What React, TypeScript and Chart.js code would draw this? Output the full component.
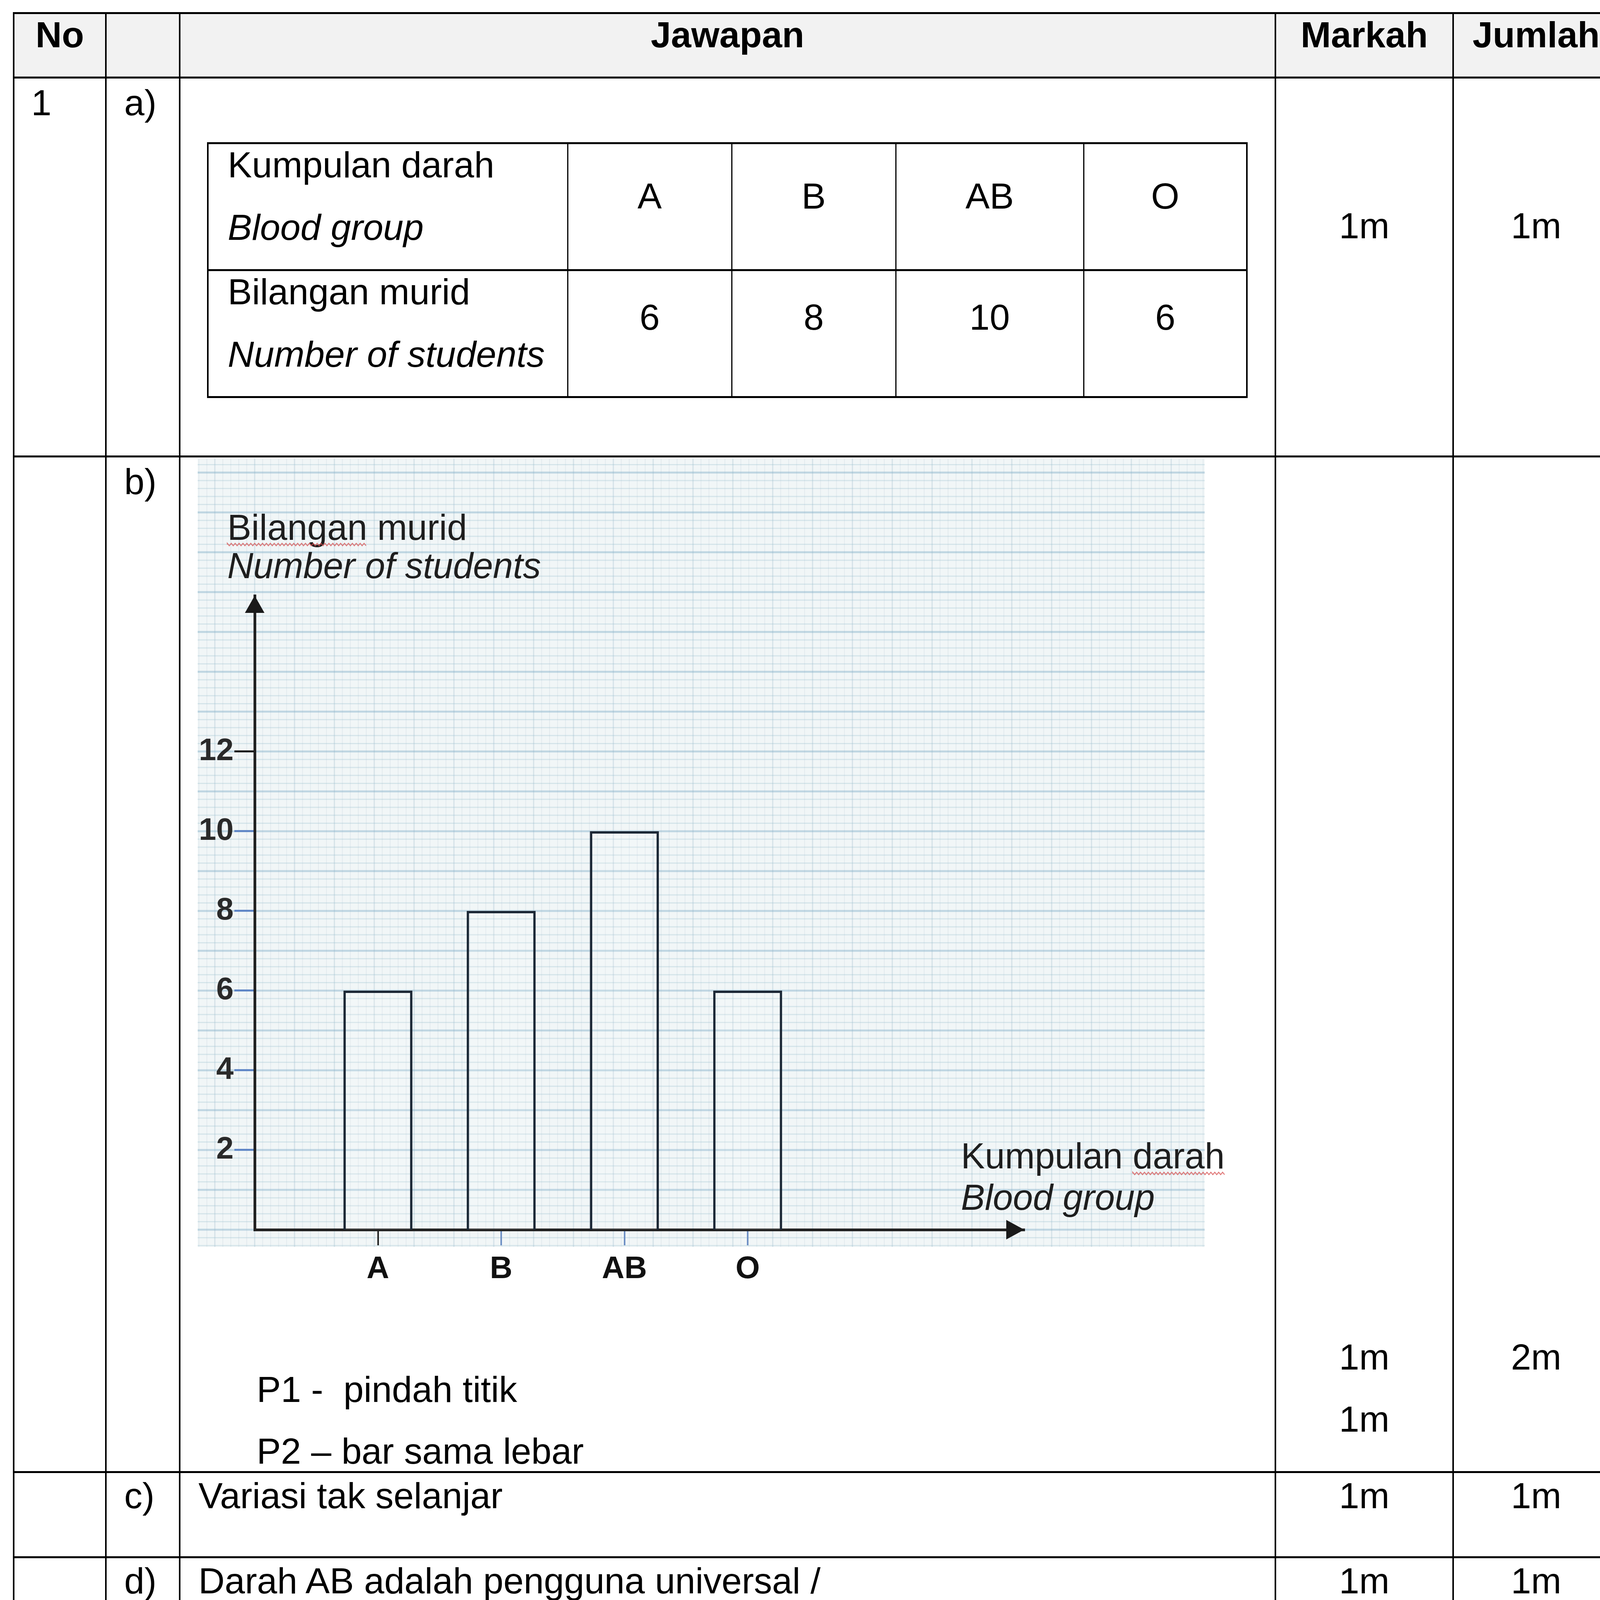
import React, { useEffect, useRef } from "react";
import { Chart, registerables } from "chart.js";

Chart.register(...registerables);

// ---------- data ----------
const categories = ["A", "B", "AB", "O"];
const studentCounts = [6, 8, 10, 6];
const yTickValues = [2, 4, 6, 8, 10, 12];
const yTitleLines = ["Bilangan murid", "Number of students"];
const xTitleLines = ["Kumpulan darah", "Blood group"];

const FONT = '"Liberation Sans", Arial, sans-serif';

// ---------- chart plugins ----------
const paperPlugin = {
  id: "paper",
  beforeDraw(chart: any) {
    const { ctx, chartArea, scales } = chart;
    const pr = chartArea.right + 462;
    const pb = chartArea.bottom + 44;
    ctx.save();
    ctx.fillStyle = "#f1f6f7";
    ctx.fillRect(0, 0, pr, pb);
    const x0 = scales.x.getPixelForValue(0);
    const y0 = scales.y.getPixelForValue(0);
    const pitch = (y0 - scales.y.getPixelForValue(1)) / 5;
    // vertical lines (faint)
    for (let k = -Math.ceil(x0 / pitch); x0 + k * pitch <= pr; k++) {
      const x = x0 + k * pitch;
      if (x < 0) continue;
      const major = k % 5 === 0;
      ctx.strokeStyle = major ? "rgba(150,180,200,0.30)" : "rgba(170,190,205,0.20)";
      ctx.lineWidth = major ? 3 : 2;
      ctx.beginPath();
      ctx.moveTo(x, 0);
      ctx.lineTo(x, pb);
      ctx.stroke();
    }
    // horizontal lines (stronger)
    for (let k = -Math.ceil((pb - y0) / pitch); y0 - k * pitch >= 0; k++) {
      const y = y0 - k * pitch;
      if (y > pb) continue;
      const major = k % 5 === 0;
      ctx.strokeStyle = major ? "rgba(130,175,200,0.45)" : "rgba(150,190,205,0.30)";
      ctx.lineWidth = major ? 5 : 3;
      ctx.beginPath();
      ctx.moveTo(0, y);
      ctx.lineTo(pr, y);
      ctx.stroke();
    }
    ctx.restore();
  },
};

function squiggle(ctx: CanvasRenderingContext2D, x1: number, x2: number, y: number) {
  ctx.save();
  ctx.strokeStyle = "rgba(215,80,80,0.75)";
  ctx.lineWidth = 2.5;
  ctx.beginPath();
  let up = true;
  ctx.moveTo(x1, y);
  for (let x = x1; x <= x2; x += 5) {
    ctx.lineTo(x, y + (up ? -3 : 3));
    up = !up;
  }
  ctx.stroke();
  ctx.restore();
}

const annotPlugin = {
  id: "annot",
  afterDraw(chart: any) {
    const { ctx, chartArea } = chart;
    ctx.save();
    ctx.fillStyle = "#1a1a1a";
    // y arrow
    const ax = chartArea.left;
    ctx.beginPath();
    ctx.moveTo(ax, chartArea.top);
    ctx.lineTo(ax - 25, chartArea.top + 44);
    ctx.lineTo(ax + 25, chartArea.top + 44);
    ctx.closePath();
    ctx.fill();
    // x arrow
    const ay = chartArea.bottom;
    ctx.beginPath();
    ctx.moveTo(chartArea.right, ay);
    ctx.lineTo(chartArea.right - 46, ay - 25);
    ctx.lineTo(chartArea.right - 46, ay + 25);
    ctx.closePath();
    ctx.fill();

    // titles
    ctx.fillStyle = "#1e1e1e";
    ctx.textBaseline = "alphabetic";
    ctx.textAlign = "left";
    const yx = chartArea.left - 70;
    ctx.font = `400 92px ${FONT}`;
    ctx.fillText(yTitleLines[0], yx, chartArea.top - 143);
    const w1 = ctx.measureText(yTitleLines[0].split(" ")[0]).width;
    squiggle(ctx, yx, yx + w1, chartArea.top - 131);
    ctx.font = `italic 400 92px ${FONT}`;
    ctx.fillText(yTitleLines[1], yx, chartArea.top - 45);

    const xx = chartArea.right - 162;
    ctx.font = `400 92px ${FONT}`;
    ctx.fillText(xTitleLines[0], xx, chartArea.bottom - 157);
    const parts = xTitleLines[0].split(" ");
    const wa = ctx.measureText(parts[0] + " ").width;
    const wb = ctx.measureText(parts[1]).width;
    squiggle(ctx, xx + wa, xx + wa + wb, chartArea.bottom - 144);
    ctx.font = `italic 400 92px ${FONT}`;
    ctx.fillText(xTitleLines[1], xx, chartArea.bottom - 51);
    ctx.restore();
  },
};

function BarChart() {
  const ref = useRef<HTMLCanvasElement>(null);
  useEffect(() => {
    if (!ref.current) return;
    const chart = new Chart(ref.current, {
      type: "bar",
      data: {
        datasets: [
          {
            data: categories.map((c, i) => ({ x: i + 1, y: studentCounts[i] })),
            backgroundColor: "rgba(255,255,255,0.12)",
            borderColor: "#1c2836",
            borderWidth: 6,
            barPercentage: 0.56,
            categoryPercentage: 1,
          } as any,
        ],
      },
      options: {
        animation: false,
        responsive: false,
        devicePixelRatio: 1,
        layout: { padding: { top: 352, right: 578, left: 0, bottom: 0 } },
        plugins: { legend: { display: false }, tooltip: { enabled: false }, title: { display: false } },
        scales: {
          x: {
            type: "linear",
            min: 0,
            max: 6.244,
            offset: false,
            afterFit: (s: any) => {
              s.height = 155;
            },
            afterBuildTicks: (s: any) => {
              s.ticks = categories.map((c, i) => ({ value: i + 1 }));
            },
            grid: {
              display: true,
              drawOnChartArea: false,
              drawTicks: true,
              tickLength: 40,
              offset: false,
              color: (c: any) => (c.index === 0 ? "#222222" : "#6d8fc4"),
              lineWidth: 4,
            },
            border: { display: true, color: "#222222", width: 7 },
            ticks: {
              autoSkip: false,
              maxRotation: 0,
              padding: 14,
              color: "#111111",
              font: { family: FONT, size: 80, weight: "bold" },
              callback: (v: any, i: number) => categories[i] ?? "",
            },
          },
          y: {
            min: 0,
            max: 15.91,
            afterFit: (s: any) => {
              s.width = 146;
            },
            afterBuildTicks: (s: any) => {
              s.ticks = yTickValues.map((v) => ({ value: v }));
            },
            grid: {
              display: true,
              drawOnChartArea: false,
              drawTicks: true,
              tickLength: 52,
              color: (c: any) => (c.tick && c.tick.value === 12 ? "#1a1a1a" : "#5f86c6"),
              lineWidth: 5,
            },
            border: { display: true, color: "#222222", width: 7 },
            ticks: {
              padding: 2,
              color: "#2a2a2a",
              font: { family: FONT, size: 80, weight: "bold" },
              callback: (v: any) => String(v),
            },
          },
        },
      } as any,
      plugins: [paperPlugin, annotPlugin],
    });
    return () => chart.destroy();
  }, []);
  return (
    <canvas
      ref={ref}
      width={2694}
      height={2130}
      style={{ position: "absolute", left: 506, top: 1173, width: 2694, height: 2130 }}
    />
  );
}

// ---------- table helpers ----------
const SIZE = 93;

function T(props: {
  x: number;
  base: number;
  w?: number;
  bold?: boolean;
  italic?: boolean;
  center?: boolean;
  children: React.ReactNode;
}) {
  const { x, base, w, bold, italic, center, children } = props;
  const top = base - 0.8465 * SIZE;
  return (
    <div
      style={{
        position: "absolute",
        left: x,
        top,
        width: center ? w : undefined,
        textAlign: center ? "center" : "left",
        fontFamily: FONT,
        fontSize: SIZE,
        lineHeight: `${SIZE}px`,
        fontWeight: bold ? 700 : 400,
        fontStyle: italic ? "italic" : "normal",
        whiteSpace: "nowrap",
        color: "#000",
      }}
    >
      {children}
    </div>
  );
}

function H({ y, x1, x2, t }: { y: number; x1: number; x2: number; t: number }) {
  return (
    <div style={{ position: "absolute", left: x1, top: y - t / 2, width: x2 - x1, height: t, background: "#000" }} />
  );
}
function V({ x, y1, y2, t }: { x: number; y1: number; y2: number; t: number }) {
  return (
    <div style={{ position: "absolute", left: x - t / 2, top: y1, width: t, height: y2 - y1, background: "#000" }} />
  );
}

const C = [35, 271, 460, 3265, 3720, 4145];
const R = [33, 198, 1168, 3768, 3986, 4366];
const IC = [532, 1453, 1873, 2293, 2774, 3192];
const IR = [366, 691, 1016];

export default function App() {
  const colW = (i: number) => C[i + 1] - C[i];
  return (
    <div
      style={{
        position: "absolute",
        left: 0,
        top: 0,
        width: 4119,
        height: 4511,
        overflow: "hidden",
        background: "#fff",
      }}
    >
      {/* shaded rows */}
      <div style={{ position: "absolute", left: C[0], top: R[0], width: 4119 - C[0], height: R[1] - R[0], background: "#f2f2f2" }} />
      <div style={{ position: "absolute", left: C[0], top: R[5], width: 4119 - C[0], height: 4511 - R[5], background: "#f2f2f2" }} />

      <BarChart />

      {/* main table lines */}
      {R.map((y) => (
        <H key={"h" + y} y={y} x1={C[0] - 2} x2={4119} t={5} />
      ))}
      {C.slice(0, 5).map((x) => (
        <V key={"v" + x} x={x} y1={R[0] - 2} y2={4511} t={4} />
      ))}

      {/* header */}
      <T x={C[0]} w={colW(0)} center bold base={122}>No</T>
      <T x={C[2]} w={colW(2)} center bold base={122}>Jawapan</T>
      <T x={C[3]} w={colW(3)} center bold base={122}>Markah</T>
      <T x={C[4]} w={colW(4)} center bold base={122}>Jumlah</T>

      {/* row a */}
      <T x={80} base={296}>1</T>
      <T x={318} base={296}>a)</T>
      <T x={C[3]} w={colW(3)} center base={611}>1m</T>
      <T x={C[4]} w={colW(4)} center base={611}>1m</T>

      {/* inner table */}
      <H y={IR[0]} x1={IC[0] - 2} x2={IC[5] + 2} t={5} />
      <H y={IR[1]} x1={IC[0] - 2} x2={IC[5] + 2} t={5} />
      <H y={IR[2]} x1={IC[0] - 2} x2={IC[5] + 2} t={5} />
      {IC.map((x, i) => (
        <V key={"iv" + x} x={x} y1={IR[0]} y2={IR[2]} t={i === 0 || i === 5 ? 4 : 3} />
      ))}
      <T x={583} base={455}>Kumpulan darah</T>
      <T x={583} base={615} italic>Blood group</T>
      <T x={583} base={780}>Bilangan murid</T>
      <T x={583} base={940} italic>Number of students</T>
      {categories.map((c, i) => (
        <T key={"c" + c} x={IC[i + 1]} w={IC[i + 2] - IC[i + 1]} center base={535}>
          {c}
        </T>
      ))}
      {studentCounts.map((v, i) => (
        <T key={"n" + i} x={IC[i + 1]} w={IC[i + 2] - IC[i + 1]} center base={845}>
          {String(v)}
        </T>
      ))}

      {/* row b */}
      <T x={318} base={1266}>b)</T>
      <T x={657} base={3590}>P1 -&nbsp; pindah titik</T>
      <T x={657} base={3748}>P2 – bar sama lebar</T>
      <T x={C[3]} w={colW(3)} center base={3507}>1m</T>
      <T x={C[3]} w={colW(3)} center base={3666}>1m</T>
      <T x={C[4]} w={colW(4)} center base={3507}>2m</T>

      {/* row c */}
      <T x={318} base={3862}>c)</T>
      <T x={508} base={3862}>Variasi tak selanjar</T>
      <T x={C[3]} w={colW(3)} center base={3862}>1m</T>
      <T x={C[4]} w={colW(4)} center base={3862}>1m</T>

      {/* row d */}
      <T x={318} base={4080}>d)</T>
      <T x={508} base={4080}>Darah AB adalah pengguna universal /</T>
      <T x={508} base={4240}>Darah AB boleh mendapat bekalan dari A, B, AB dan O</T>
      <T x={C[3]} w={colW(3)} center base={4080}>1m</T>
      <T x={C[4]} w={colW(4)} center base={4080}>1m</T>

      {/* total row */}
      <T x={C[3]} w={colW(3)} center bold base={4458}>Jumlah</T>
      <T x={C[4]} w={colW(4)} center bold base={4458}>5m</T>
    </div>
  );
}
